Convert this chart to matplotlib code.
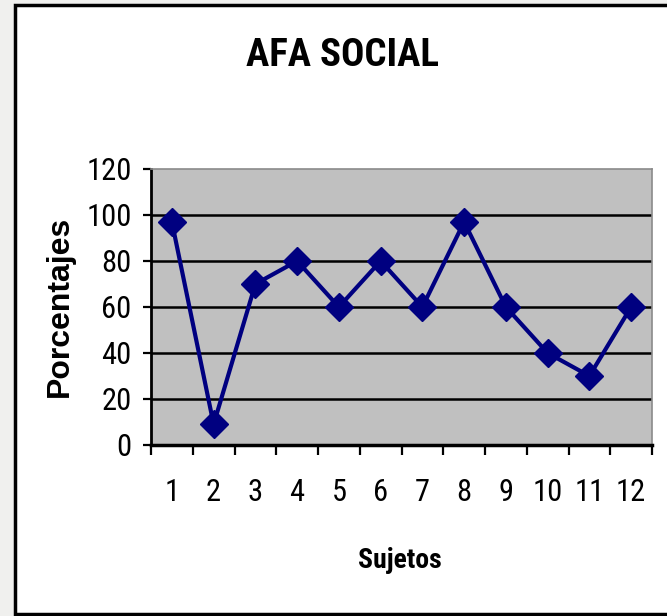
import matplotlib
matplotlib.use("Agg")
import matplotlib.pyplot as plt
from matplotlib import font_manager
from matplotlib.patches import Rectangle

# data
sujetos = ["1", "2", "3", "4", "5", "6", "7", "8", "9", "10", "11", "12"]
porcentajes = [97, 9, 70, 80, 60, 80, 60, 97, 60, 40, 30, 60]
y_ticks = [0, 20, 40, 60, 80, 100, 120]

# narrow font for horizontal text (chart looks like Arial Narrow)
names = {f.name for f in font_manager.fontManager.ttflist}
NARROW = "Roboto Condensed" if "Roboto Condensed" in names else "Liberation Sans"
WIDE = "Liberation Sans"

fig = plt.figure(figsize=(6.67, 6.16), dpi=100)
fig.patch.set_facecolor("#f0f0ee")

# white chart frame with black border
frame = Rectangle((15 / 667, 2 / 616), 1.0, 609 / 616, transform=fig.transFigure,
                  facecolor="white", edgecolor="black", linewidth=2.5, zorder=-5)
fig.patches.append(frame)

ax = fig.add_axes([151 / 667, 1 - 445 / 616, (652 - 151) / 667, (445 - 169) / 616])
ax.set_facecolor("#c0c0c0")
ax.set_zorder(1)

x = list(range(1, len(sujetos) + 1))
ax.plot(x, porcentajes, color="#000080", linewidth=3, marker="D",
        markersize=14, markerfacecolor="#000080", markeredgecolor="#000080",
        zorder=3, clip_on=False)

ax.set_xlim(0.5, len(sujetos) + 0.5)
ax.set_ylim(0, 120)
ax.set_yticks(y_ticks)
ax.set_yticklabels([str(v) for v in y_ticks], fontfamily=NARROW, fontsize=22,
                   fontweight="normal")
ax.set_xticks(x)
ax.set_xticklabels(sujetos, fontfamily=NARROW, fontsize=22, fontweight="normal")
ax.set_xticks([i + 0.5 for i in range(0, len(sujetos) + 1)], minor=True)
ax.tick_params(axis="x", which="major", length=0, pad=24)
ax.tick_params(axis="x", which="minor", length=7, width=1.6, direction="out")
ax.tick_params(axis="y", length=6, width=1.6, pad=8)

for v in y_ticks[1:-1]:
    ax.axhline(v, color="black", linewidth=1.8, zorder=1)

ax.spines["left"].set_linewidth(2)
ax.spines["bottom"].set_linewidth(2.5)
ax.spines["top"].set_color("#8a8a8a")
ax.spines["right"].set_color("#8a8a8a")
ax.spines["top"].set_linewidth(1.2)
ax.spines["right"].set_linewidth(1.2)

fig.text(343 / 667, 1 - 56 / 616, "AFA SOCIAL", ha="center", va="center",
         fontfamily=NARROW, fontweight="bold", fontsize=28)
fig.text(400 / 667, 1 - 560 / 616, "Sujetos", ha="center", va="center",
         fontfamily=NARROW, fontweight="bold", fontsize=20)
fig.text(60 / 667, 1 - 306 / 616, "Porcentajes", ha="center", va="center",
         rotation=90, fontfamily=WIDE, fontweight="bold", fontsize=23)

fig.savefig("out.png", dpi=100)
